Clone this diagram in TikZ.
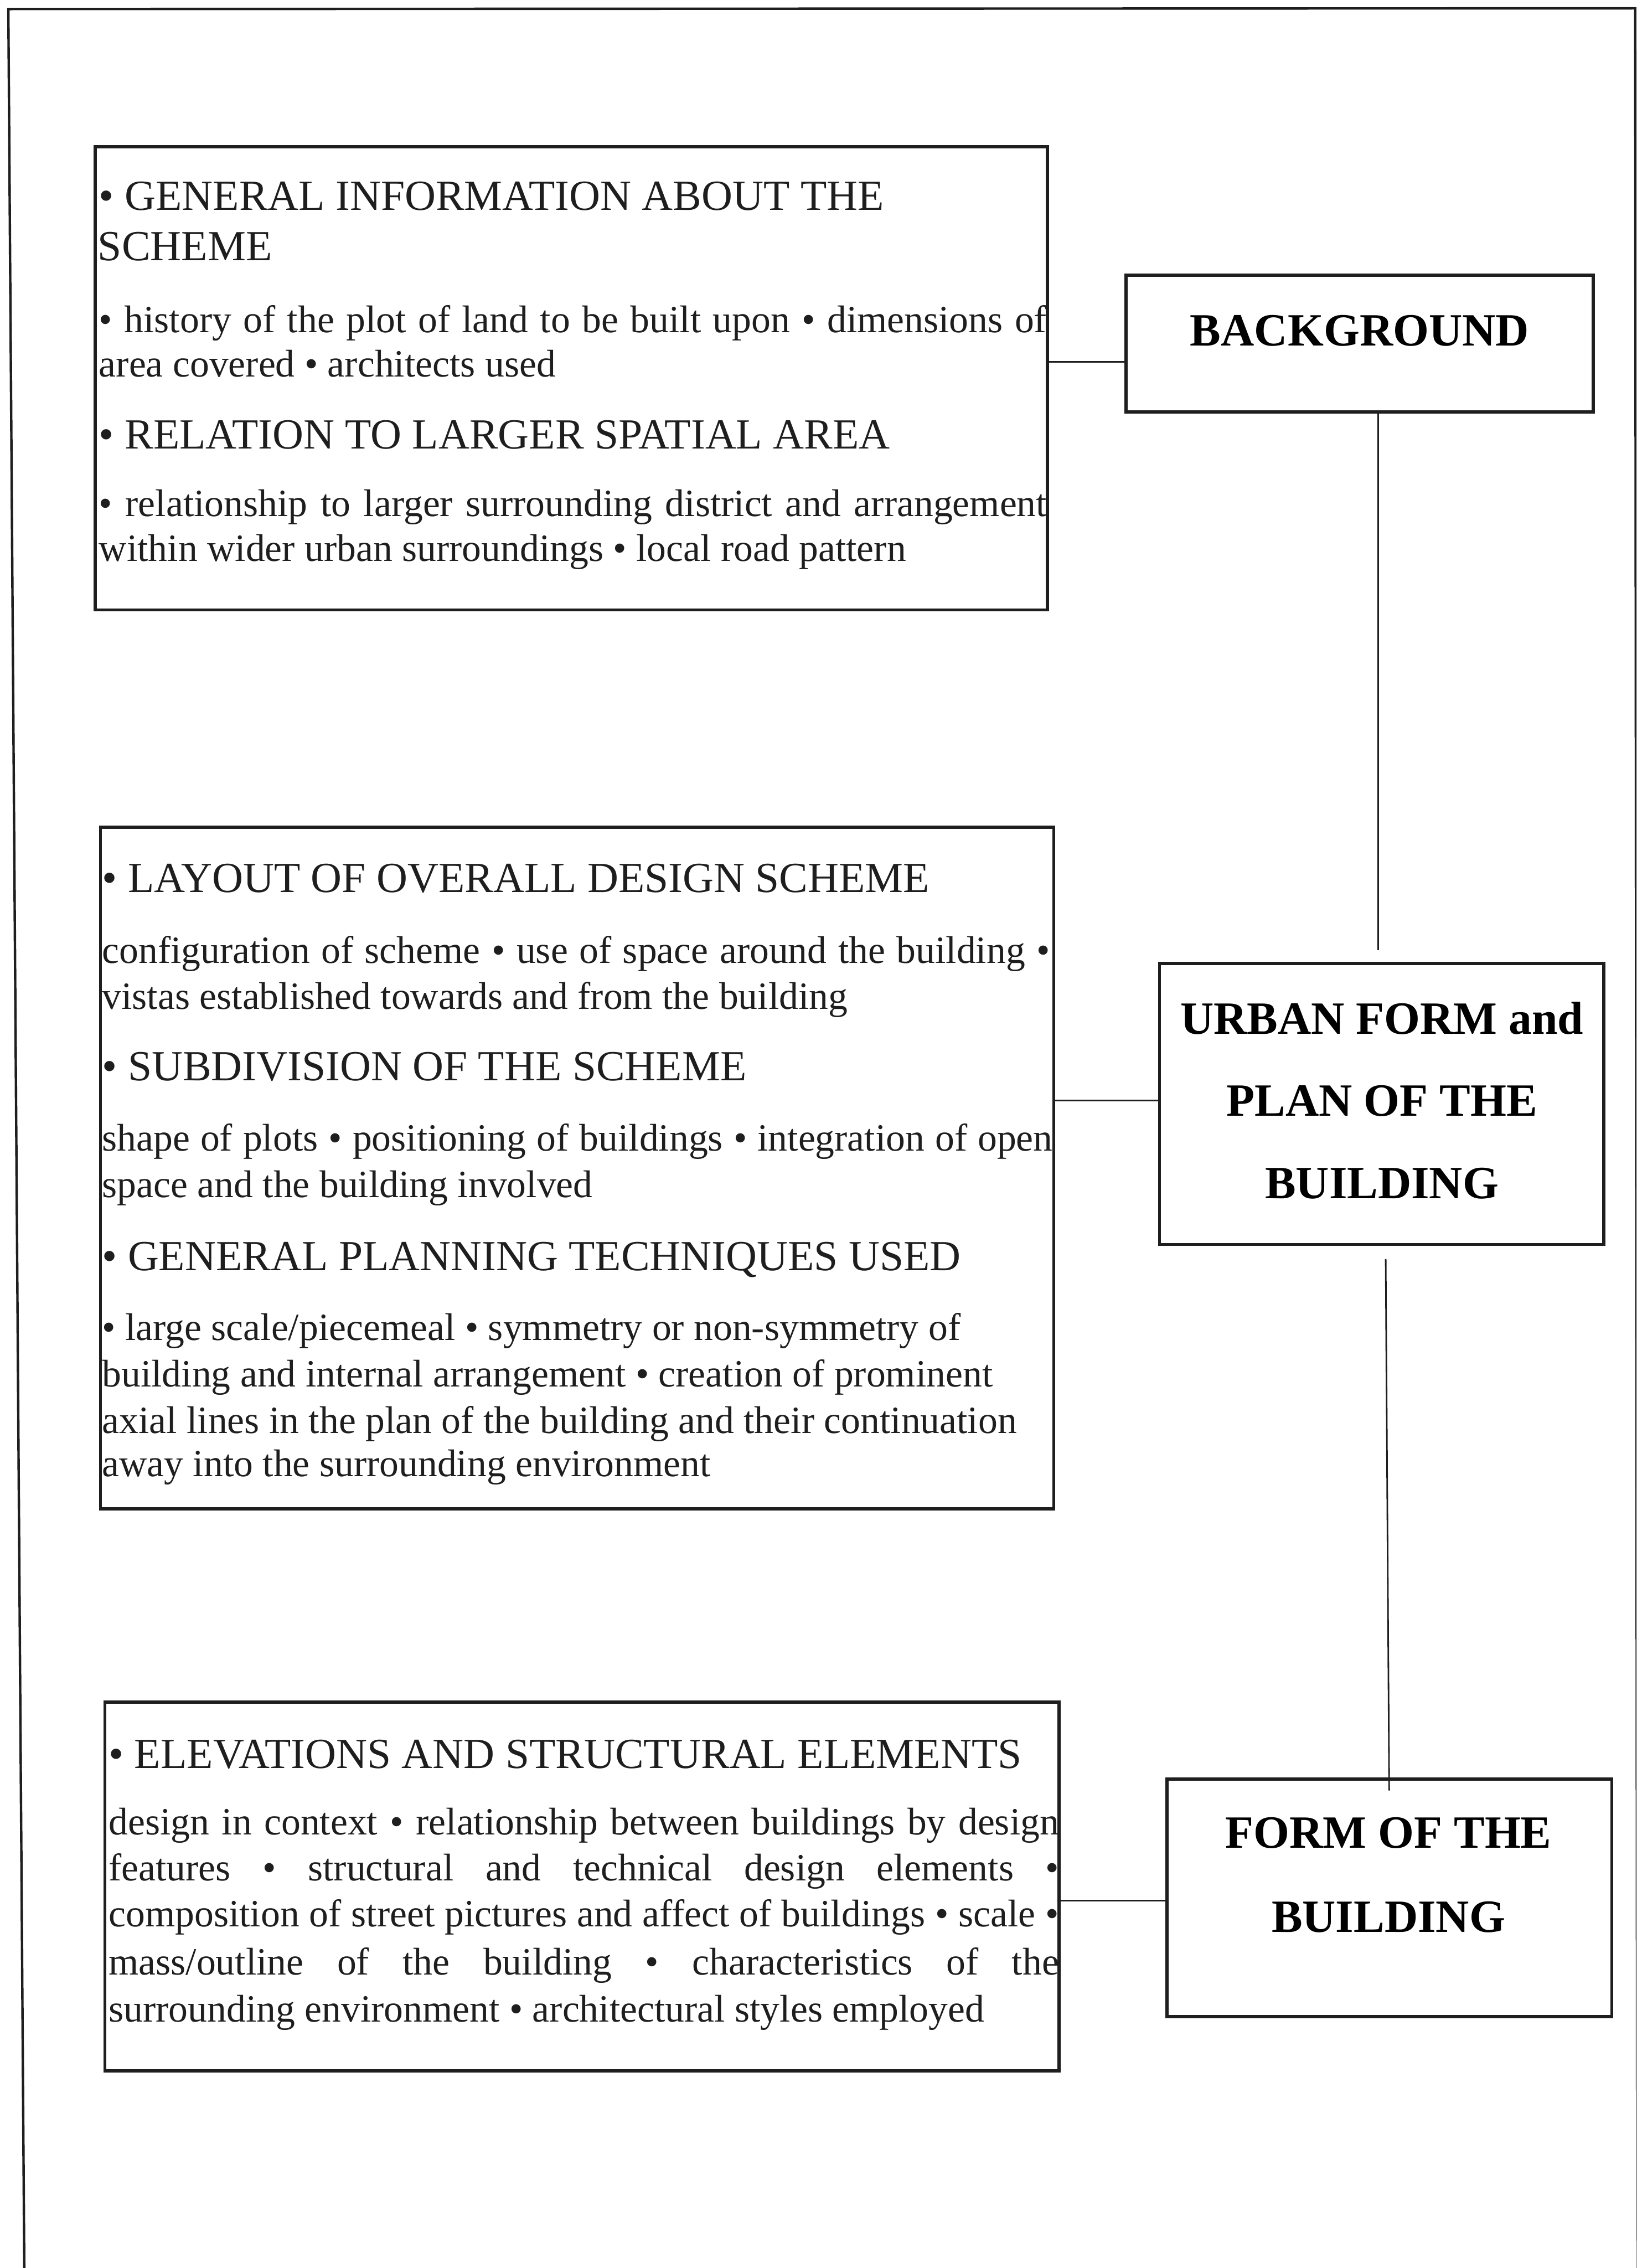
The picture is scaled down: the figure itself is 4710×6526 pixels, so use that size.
\documentclass[tikz,border=0pt]{standalone}
\usepackage{fontspec}
\setmainfont{Liberation Serif}
\definecolor{ink}{HTML}{1E1E1E}
% one justified line of the given width
\newcommand{\justline}[2]{\makebox[#1][s]{#2}}
\begin{document}
\begin{tikzpicture}[x=0.1pt,y=-0.1pt,
  box/.style={draw=ink, line width=0.9pt, inner sep=0pt, rectangle},
  head/.style={anchor=base west, inner sep=0pt, text=ink, font=\fontsize{12.35}{14.5}\selectfont},
  body/.style={anchor=base west, inner sep=0pt, text=ink, font=\fontsize{11.1}{13.3}\selectfont},
  title/.style={anchor=base, inner sep=0pt, text=black, font=\fontsize{13.3}{23.6}\selectfont\bfseries},
  link/.style={draw=ink, line width=0.45pt},
  frame/.style={draw=ink, line width=0.7pt}]
\useasboundingbox (0,0) rectangle (4710,6526);
\fill[white] (0,0) rectangle (4710,6526);

% page frame
\begin{scope}
\clip (0,0) rectangle (4710,6526);
\coordinate (fa) at (24,26);
\coordinate (fb) at (4706,24);
\coordinate (fc) at (70,6540);
\coordinate (fd) at (4712,6540);
\draw[frame] (fc) -- (fa) -- (fb) -- (fd);
\end{scope}

% ---------- boxes ----------
\node[box, minimum width=274.1pt, minimum height=133.3pt] (info)  at (1644.5,1088.5) {};
\node[box, minimum width=134.4pt, minimum height=39.3pt]  (bg)    at (3913,988.5) {};
\node[box, minimum width=274.4pt, minimum height=196.2pt] (plan)  at (1661,3361) {};
\node[box, minimum width=127.9pt, minimum height=80.9pt]  (urban) at (3976.5,3176.5) {};
\node[box, minimum width=274.6pt, minimum height=106.1pt] (elev)  at (1675,5428.5) {};
\node[box, minimum width=128.1pt, minimum height=68.4pt]  (form)  at (3998.5,5461) {};

% ---------- connectors ----------
\coordinate (j1) at (0,1041);
\coordinate (j2) at (0,3166);
\coordinate (j3) at (0,5469);
\draw[link] (info.east |- j1) -- (bg.west |- j1);
\draw[link] (plan.east |- j2) -- (urban.west |- j2);
\draw[link] (elev.east |- j3) -- (form.west |- j3);
\coordinate (v1) at (3967,2734);
\draw[link] (v1 |- bg.south) -- (v1);
\coordinate (v2a) at (3988,3623);
\coordinate (v2b) at (3998,5152);
\draw[link] (v2a) -- (v2b);

% ---------- background ----------
\node[head] (i1) at (283,604) {• GENERAL INFORMATION ABOUT THE};
\node[head] (i2) at (280,749) {SCHEME};
\node[body] (i3) at (283,956) {\justline{272.8pt}{• history of the plot of land to be built upon • dimensions of}};
\node[body] (i4) at (283,1085) {area covered • architects used};
\node[head] (i5) at (283,1291) {• RELATION TO LARGER SPATIAL AREA};
\node[body] (i6) at (283,1486) {\justline{272.8pt}{• relationship to larger surrounding district and arrangement}};
\node[body] (i7) at (283,1615) {within wider urban surroundings • local road pattern};

\node[title] (t1) at (3913,995) {BACKGROUND};

% ---------- urban form and plan ----------
\node[head] (p1) at (292,2568) {• LAYOUT OF OVERALL DESIGN SCHEME};
\node[body] (p2) at (292,2771) {\justline{272.8pt}{configuration of scheme • use of space around the building •}};
\node[body] (p3) at (292,2903) {vistas established towards and from the building};
\node[head] (p4) at (292,3110) {• SUBDIVISION OF THE SCHEME};
\node[body] (p5) at (292,3311) {\justline{273.6pt}{shape of plots • positioning of buildings • integration of open}};
\node[body] (p6) at (292,3445) {space and the building involved};
\node[head] (p7) at (292,3655) {• GENERAL PLANNING TECHNIQUES USED};
\node[body] (p8) at (292,3856) {• large scale/piecemeal • symmetry or non-symmetry of};
\node[body] (p9) at (292,3990) {building and internal arrangement • creation of prominent};
\node[body] (p10) at (292,4124) {axial lines in the plan of the building and their continuation};
\node[body] (p11) at (292,4249) {away into the surrounding environment};

\node[title] (u1) at (3977,2976) {URBAN FORM and};
\node[title] (u2) at (3977,3211) {PLAN OF THE};
\node[title] (u3) at (3977,3449) {BUILDING};

% ---------- form of the building ----------
\node[head] (e1) at (311,5088) {• ELEVATIONS AND STRUCTURAL ELEMENTS};
\node[body] (e2) at (311,5279) {\justline{273.5pt}{design in context • relationship between buildings by design}};
\node[body] (e3) at (311,5411) {\justline{273.5pt}{features • structural and technical design elements •}};
\node[body] (e4) at (311,5543) {\justline{273.5pt}{composition of street pictures and affect of buildings • scale •}};
\node[body] (e5) at (311,5682) {\justline{273.5pt}{mass/outline of the building • characteristics of the}};
\node[body] (e6) at (311,5818) {surrounding environment • architectural styles employed};

\node[title] (f1) at (3996,5318) {FORM OF THE};
\node[title] (f2) at (3996,5560) {BUILDING};
\end{tikzpicture}
\end{document}
